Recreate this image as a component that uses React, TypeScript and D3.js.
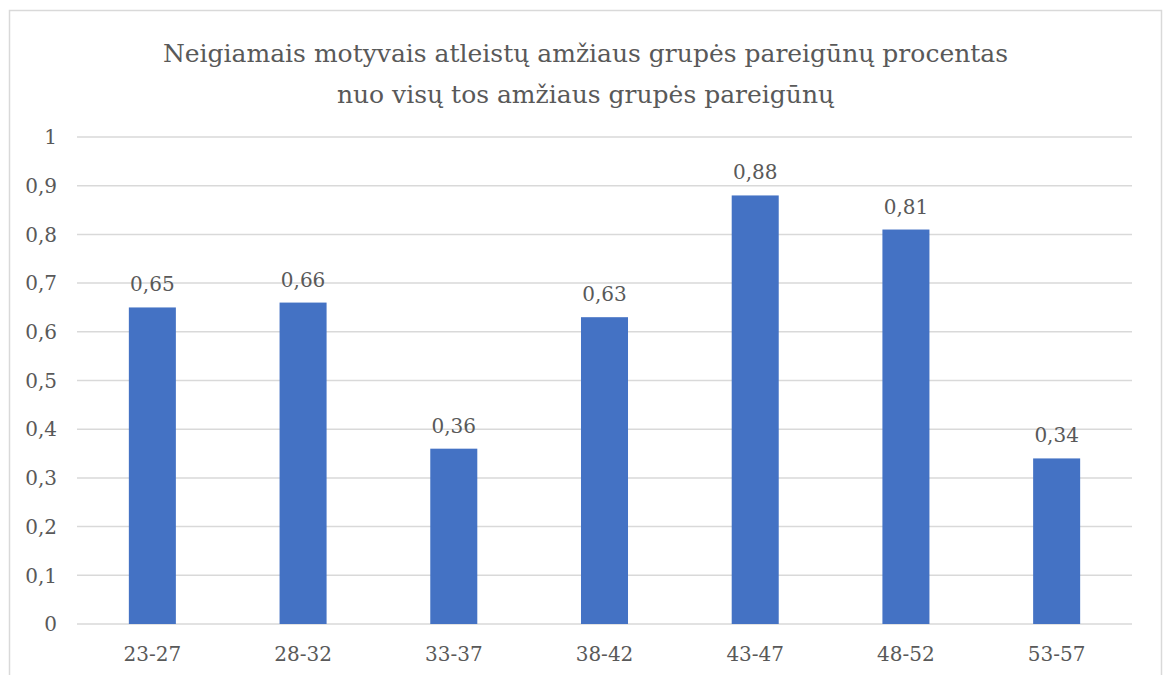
import React from "react";
import * as d3 from "d3";

const categories = ["23-27", "28-32", "33-37", "38-42", "43-47", "48-52", "53-57"];
const values = [0.65, 0.66, 0.36, 0.63, 0.88, 0.81, 0.34];
const yTicks = [0, 0.1, 0.2, 0.3, 0.4, 0.5, 0.6, 0.7, 0.8, 0.9, 1];
const titleLines = [
  "Neigiamais motyvais atleistų amžiaus grupės pareigūnų procentas",
  "nuo visų tos amžiaus grupės pareigūnų",
];

const W = 1165;
const H = 675;
const plot = { left: 77, right: 1132, top: 137, bottom: 624 };
const FONT = "DejaVu Serif";
const TEXT = "#595959";

const fmt = (v: number) => {
  const s = d3.format("~g")(+v.toFixed(2));
  return s.replace(".", ",");
};

const txt = { fontFamily: FONT };

export default function App() {
  const x = d3
    .scaleBand<string>()
    .domain(categories)
    .range([plot.left, plot.right])
    .paddingInner(0.688)
    .paddingOuter(0.344);
  const y = d3.scaleLinear().domain([0, 1]).range([plot.bottom, plot.top]);

  return (
    <svg width={W} height={H} style={{ position: "absolute", left: 0, top: 0, background: "#fff" }}>
      <rect x={0} y={0} width={W} height={H} fill="#fff" />
      <rect x={9.5} y={10.5} width={1152} height={720} fill="none" stroke="#d9d9d9" strokeWidth={1.5} />
      {titleLines.map((t, i) => (
        <text key={i} x={585.5} y={62 + i * 41} textAnchor="middle" fontSize={25} fill={TEXT} style={txt}>
          {t}
        </text>
      ))}
      {yTicks.map((t) => (
        <g key={t}>
          <line x1={plot.left} x2={plot.right} y1={y(t)} y2={y(t)} stroke="#d9d9d9" strokeWidth={1.5} />
          <text x={57} y={y(t)} dy="0.36em" textAnchor="end" fontSize={20} fill={TEXT} style={txt}>
            {fmt(t)}
          </text>
        </g>
      ))}
      {categories.map((c, i) => (
        <g key={c}>
          <rect x={x(c)!} y={y(values[i])} width={x.bandwidth()} height={y(0) - y(values[i])} fill="#4472C4" />
          <text x={x(c)! + x.bandwidth() / 2} y={y(values[i]) - 16} textAnchor="middle" fontSize={20} fill={TEXT} style={txt}>
            {fmt(values[i])}
          </text>
          <text x={x(c)! + x.bandwidth() / 2} y={661} textAnchor="middle" fontSize={20} fill={TEXT} style={txt}>
            {c}
          </text>
        </g>
      ))}
    </svg>
  );
}
